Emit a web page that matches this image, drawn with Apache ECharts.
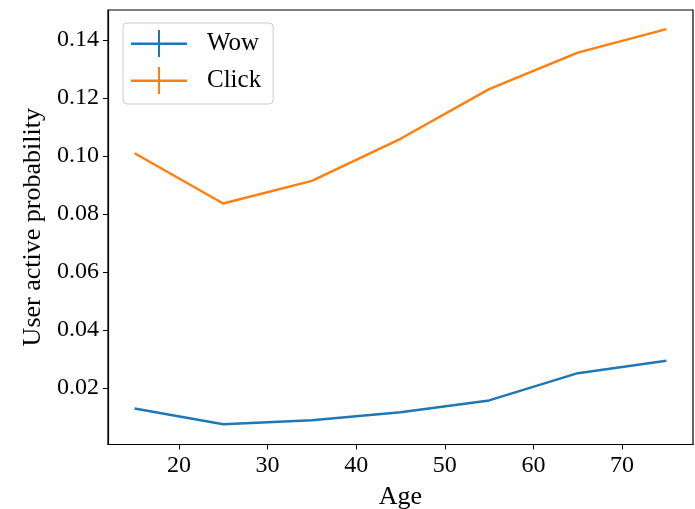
<!DOCTYPE html>
<html>
<head>
<meta charset="utf-8">
<script src="https://cdn.jsdelivr.net/npm/echarts@6/dist/echarts.min.js"></script>
<style>html,body{margin:0;padding:0;background:#fff;}#c{width:695px;height:509px;}</style>
</head>
<body>
<div id="c"></div>
<script>
const ages = [15, 25, 35, 45, 55, 65, 75];
const wow = [0.0129, 0.0075, 0.0089, 0.0116, 0.0157, 0.0251, 0.0294];
const click = [0.1009, 0.0836, 0.0914, 0.1059, 0.1230, 0.1356, 0.1437];
const xTicks = [20, 30, 40, 50, 60, 70];
const yTicks = [0.02, 0.04, 0.06, 0.08, 0.10, 0.12, 0.14];
const seriesNames = ['Wow', 'Click'];
const colors = ['#1f77b4', '#ff7f0e'];

const font = 'Liberation Serif';
const plusIcon = 'path://M0,12.5 L27,12.5 L27,0 L29,0 L29,12.5 L56,12.5 L56,15 L29,15 L29,27 L27,27 L27,15 L0,15 Z';

const chart = echarts.init(document.getElementById('c'), null, {renderer: 'canvas'});
chart.setOption({
  animation: false,
  backgroundColor: '#fff',
  grid: {left: 108, right: 2, top: 10, bottom: 64.5, show: true, borderColor: '#000', borderWidth: 1.2,
         backgroundColor: 'transparent', outerBoundsMode: 'none', containLabel: false},
  legend: {
    orient: 'vertical', left: 123, top: 23,
    padding: [7, 12, 10, 8],
    itemWidth: 56, itemHeight: 27, itemGap: 10,
    borderColor: '#cccccc', borderWidth: 1, borderRadius: 4,
    backgroundColor: 'rgba(255,255,255,0.8)',
    textStyle: {fontFamily: font, fontSize: 25, color: '#000', padding: [0, 0, 0, 15]},
    data: seriesNames.map(n => ({name: n, icon: plusIcon}))
  },
  xAxis: {
    type: 'value', min: 12, max: 78,
    name: 'Age', nameLocation: 'middle', nameGap: 40,
    nameTextStyle: {fontFamily: font, fontSize: 26, color: '#000'},
    axisLine: {show: true, lineStyle: {color: '#000', width: 1.2}},
    axisTick: {show: true, length: 5, lineStyle: {color: '#000'}, customValues: xTicks},
    axisLabel: {fontFamily: font, fontSize: 24, color: '#000', margin: 9, customValues: xTicks},
    splitLine: {show: false}
  },
  yAxis: {
    type: 'value', min: 0.0005, max: 0.1503,
    name: 'User active probability', nameLocation: 'middle', nameGap: 62,
    nameTextStyle: {fontFamily: font, fontSize: 26, color: '#000'},
    axisLine: {show: true, lineStyle: {color: '#000', width: 1.2}},
    axisTick: {show: true, length: 5, lineStyle: {color: '#000'}, customValues: yTicks},
    axisLabel: {fontFamily: font, fontSize: 24, color: '#000', margin: 9, customValues: yTicks,
      formatter: v => v.toFixed(2)},
    splitLine: {show: false}
  },
  series: [
    {name: seriesNames[0], type: 'line', showSymbol: false, color: colors[0],
     lineStyle: {width: 2.5, color: colors[0]}, data: ages.map((a, i) => [a, wow[i]])},
    {name: seriesNames[1], type: 'line', showSymbol: false, color: colors[1],
     lineStyle: {width: 2.5, color: colors[1]}, data: ages.map((a, i) => [a, click[i]])}
  ]
});
</script>
</body>
</html>
